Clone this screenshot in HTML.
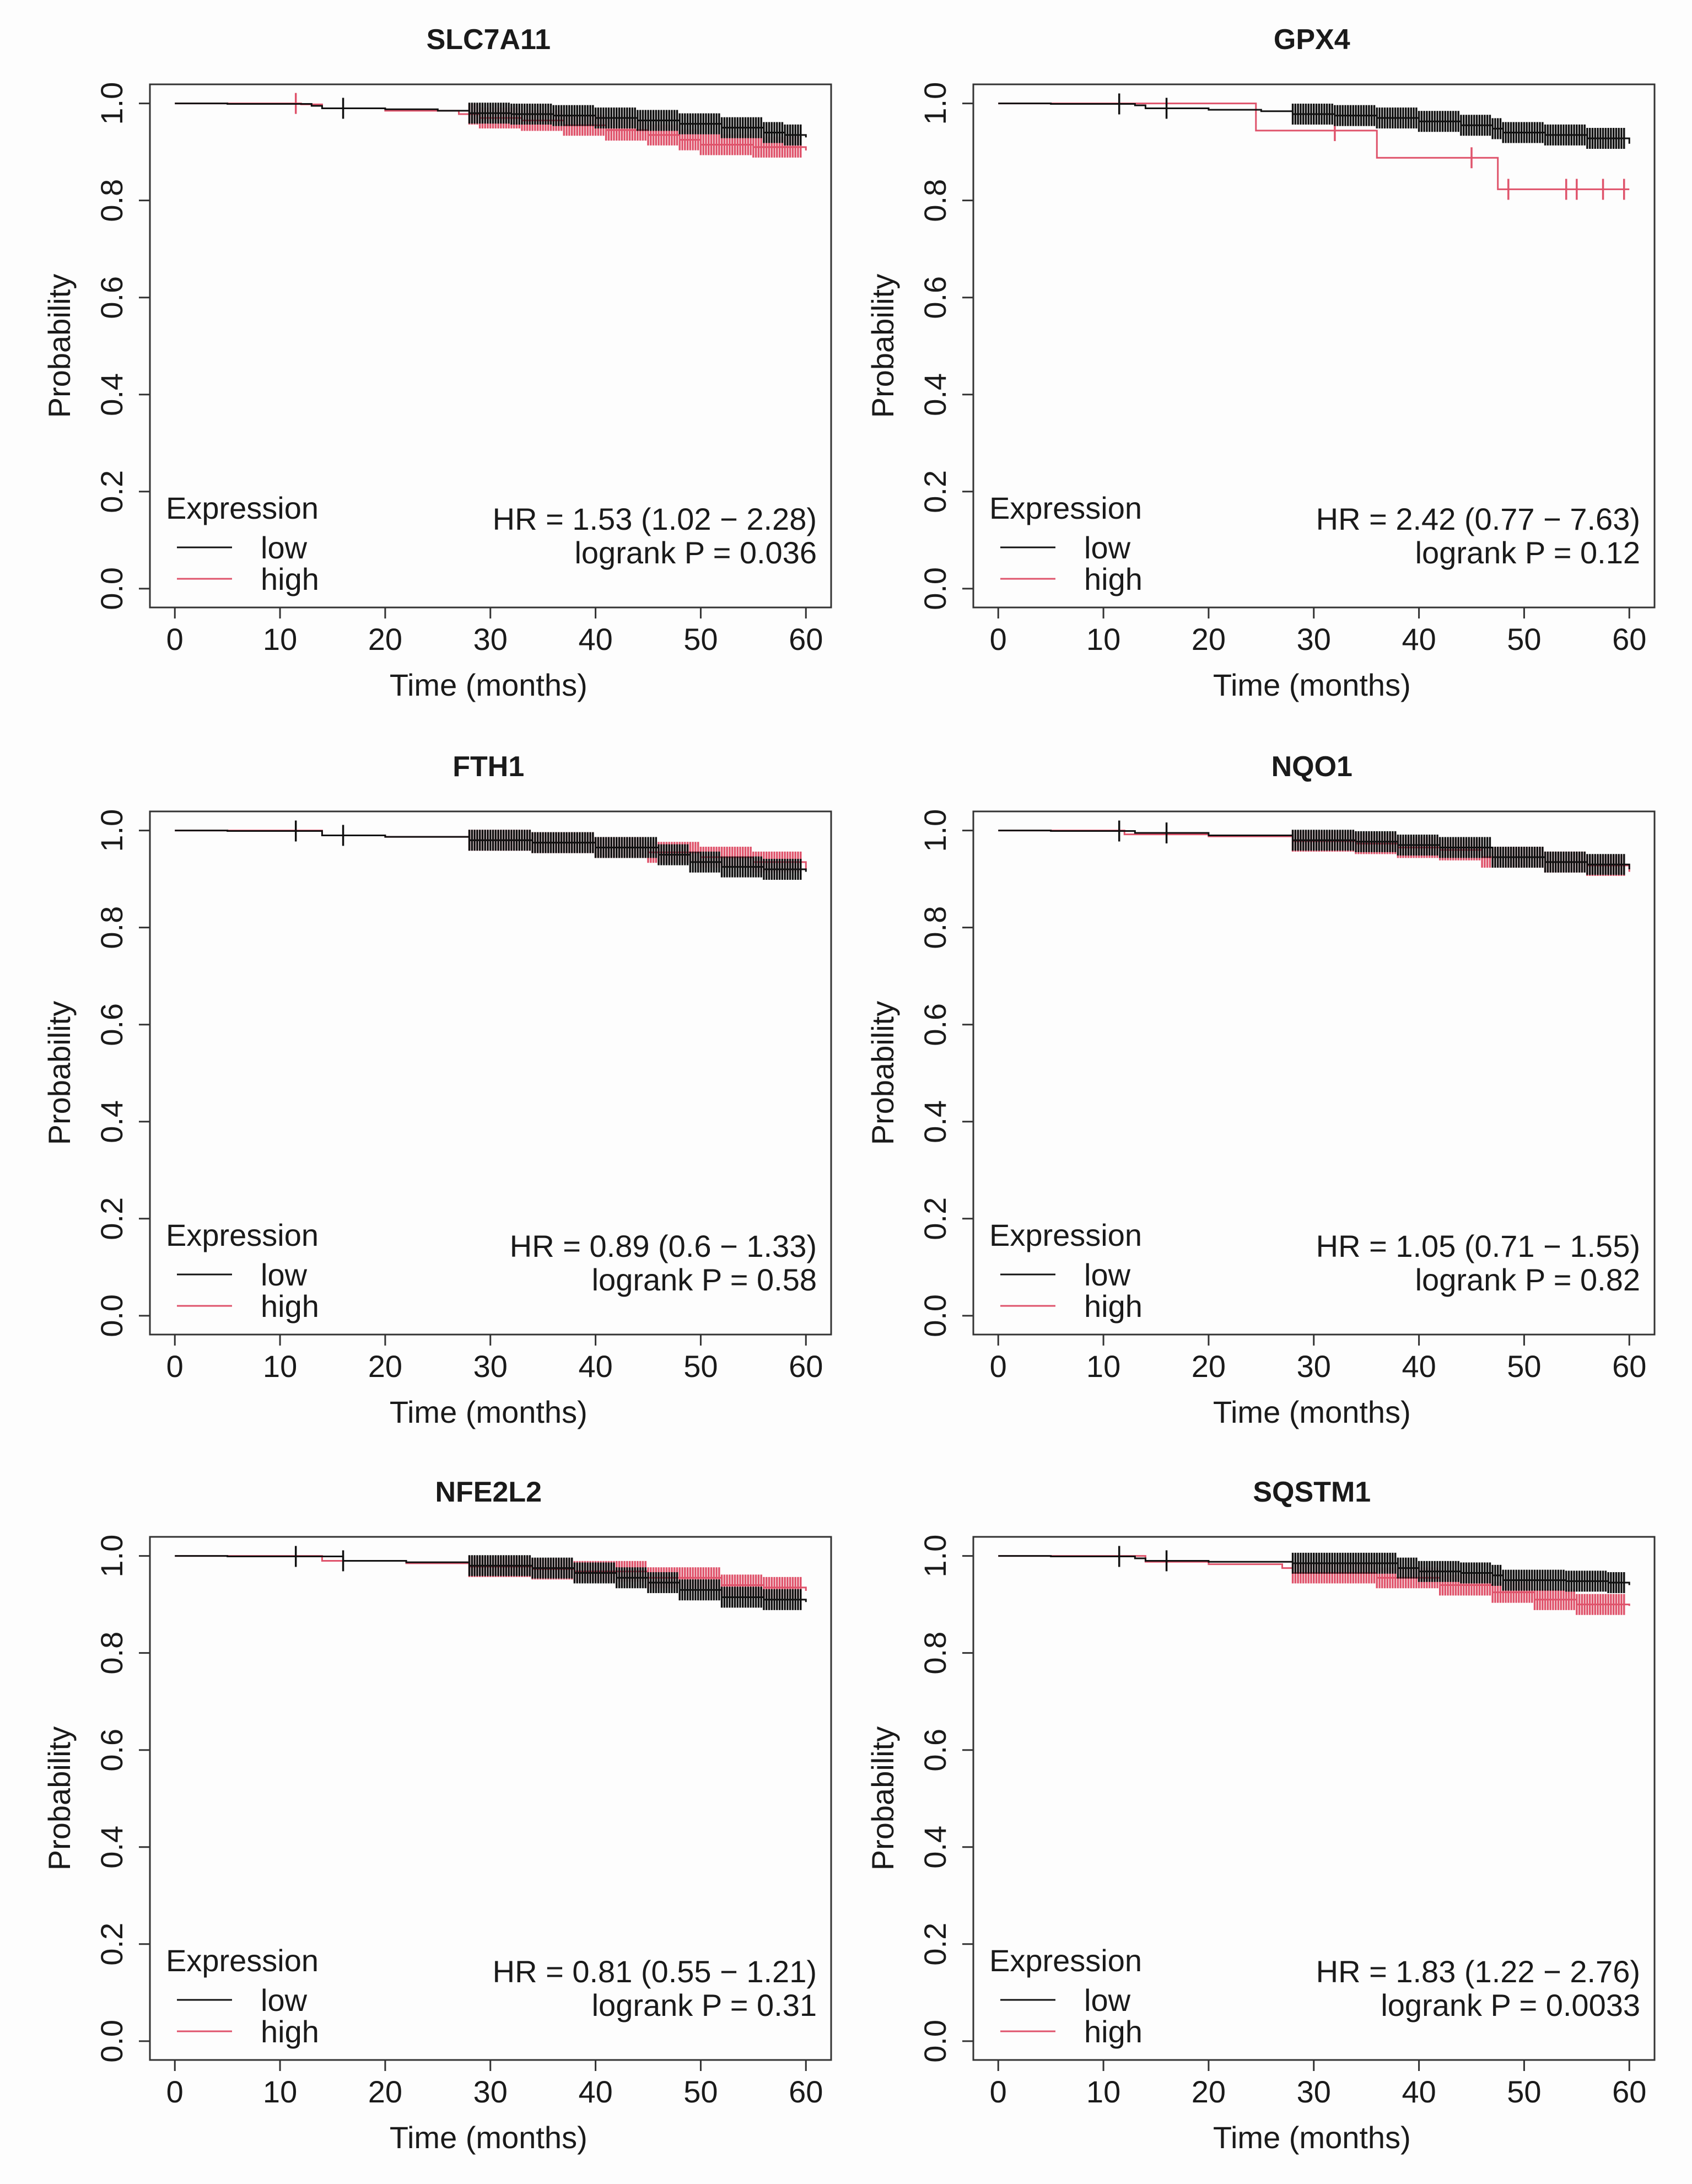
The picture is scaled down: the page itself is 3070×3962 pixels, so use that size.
<!DOCTYPE html>
<html><head><meta charset="utf-8"><style>
html,body{margin:0;padding:0;background:#fdfdfd;}
svg{display:block;}
text{font-family:"Liberation Sans",Arial,sans-serif;fill:#1a1a1a;}
</style></head><body>
<svg id="fig" width="3070" height="3962" viewBox="0 0 3070 3962" xmlns="http://www.w3.org/2000/svg"></svg>
<script>
const genes = ["SLC7A11","GPX4","FTH1","NQO1","NFE2L2","SQSTM1"];
const hrText = ["HR = 1.53 (1.02 \u2212 2.28)","HR = 2.42 (0.77 \u2212 7.63)","HR = 0.89 (0.6 \u2212 1.33)","HR = 1.05 (0.71 \u2212 1.55)","HR = 0.81 (0.55 \u2212 1.21)","HR = 1.83 (1.22 \u2212 2.76)"];
const pText = ["logrank P = 0.036","logrank P = 0.12","logrank P = 0.58","logrank P = 0.82","logrank P = 0.31","logrank P = 0.0033"];
const xTicks = [0,10,20,30,40,50,60];
const yTicks = [0,0.2,0.4,0.6,0.8,1.0];
const yTickLabels = ["0.0","0.2","0.4","0.6","0.8","1.0"];
const lowCurves = [
 [[0,1],[5,0.999],[13,0.995],[14,0.99],[20,0.988],[25,0.985],[28,0.98],[32,0.978],[36,0.975],[40,0.97],[44,0.965],[48,0.958],[52,0.95],[56,0.94],[58,0.935],[60,0.93]],
 [[0,1],[5,0.999],[13,0.996],[14,0.99],[20,0.987],[25,0.984],[28,0.978],[32,0.975],[36,0.97],[40,0.963],[44,0.955],[47,0.948],[48,0.94],[52,0.935],[56,0.928],[60,0.917]],
 [[0,1],[5,0.999],[14,0.99],[20,0.987],[28,0.98],[34,0.975],[40,0.965],[46,0.95],[49,0.935],[52,0.925],[56,0.92],[60,0.915]],
 [[0,1],[5,0.999],[13,0.995],[20,0.99],[28,0.98],[34,0.977],[38,0.97],[42,0.965],[47,0.945],[52,0.935],[56,0.93],[60,0.92]],
 [[0,1],[5,0.999],[16,0.99],[22,0.987],[28,0.98],[34,0.975],[38,0.965],[42,0.955],[45,0.945],[48,0.93],[52,0.915],[56,0.91],[60,0.905]],
 [[0,1],[5,0.999],[13,0.995],[14,0.99],[20,0.988],[28,0.985],[38,0.975],[40,0.968],[44,0.965],[47,0.96],[48,0.95],[54,0.948],[58,0.945],[60,0.94]]
];
const highCurves = [
 [[0,1],[12,0.998],[14,0.99],[20,0.985],[27,0.978],[29,0.97],[33,0.965],[37,0.955],[41,0.945],[45,0.935],[48,0.925],[50,0.915],[55,0.91],[60,0.903]],
 [[0,1],[24.5,0.944],[36,0.888],[47.5,0.823],[60,0.823]],
 [[0,1],[14,0.99],[20,0.987],[28,0.98],[34,0.975],[40,0.965],[45,0.955],[50,0.945],[55,0.935],[60,0.92]],
 [[0,1],[12,0.992],[20,0.988],[28,0.978],[34,0.973],[38,0.965],[42,0.96],[46,0.945],[52,0.935],[56,0.928],[60,0.915]],
 [[0,1],[14,0.99],[22,0.985],[28,0.978],[34,0.973],[38,0.968],[45,0.955],[52,0.94],[56,0.935],[60,0.928]],
 [[0,1],[14,0.988],[20,0.983],[27,0.975],[28,0.965],[36,0.955],[42,0.94],[47,0.925],[51,0.91],[55,0.9],[60,0.897]]
];
const earlyCensor = [11.5,16];
const censorTimes = [28,28.25,28.5,28.75,29,29.25,29.5,29.75,30,30.25,30.5,30.75,31,31.25,31.5,31.75,32,32.25,32.5,32.75,33,33.25,33.5,33.75,34,34.25,34.5,34.75,35,35.25,35.5,35.75,36,36.25,36.5,36.75,37,37.25,37.5,37.75,38,38.25,38.5,38.75,39,39.25,39.5,39.75,40,40.25,40.5,40.75,41,41.25,41.5,41.75,42,42.25,42.5,42.75,43,43.25,43.5,43.75,44,44.25,44.5,44.75,45,45.25,45.5,45.75,46,46.25,46.5,46.75,47,47.25,47.5,47.75,48,48.25,48.5,48.75,49,49.25,49.5,49.75,50,50.25,50.5,50.75,51,51.25,51.5,51.75,52,52.25,52.5,52.75,53,53.25,53.5,53.75,54,54.25,54.5,54.75,55,55.25,55.5,55.75,56,56.25,56.5,56.75,57,57.25,57.5,57.75,58,58.25,58.5,58.75,59,59.25,59.5];
const gpx4HighCensor = [32,45,48.5,54,55,57.5,59.5];

const NS="http://www.w3.org/2000/svg";
const svg=document.getElementById('fig');
function mk(tag,attrs,parent){const e=document.createElementNS(NS,tag);for(const k in attrs)e.setAttribute(k,attrs[k]);(parent||svg).appendChild(e);return e;}
const colX=[272,1766], rowY=[153,1472,2788], BW=1236, BH=949;
function survAt(curve,t){let s=1;for(const p of curve){if(p[0]<=t)s=p[1];}return s;}

genes.forEach((g,i)=>{
  const L=colX[i%2], T=rowY[Math.floor(i/2)];
  const grp=mk('g',{});
  
  
  const xs=t=>L+BW*0.0366+(t/60)*BW*(0.963-0.0366);
  const ys=v=>T+BH*0.964-(v)*BH*(0.964-0.0365);
  const title=mk('text',{x:L+BW*0.497,y:T-64,'text-anchor':'middle','font-size':52,'font-weight':'bold'},grp);
  title.textContent=g;
  
  
  const box=mk('rect',{x:L,y:T,width:BW,height:BH,fill:'none',stroke:'#333',"stroke-width":3},grp);
  
  
  const xa=mk('g',{},grp);
  
  
  xTicks.forEach(t=>{
    mk('line',{x1:xs(t),x2:xs(t),y1:T+BH,y2:T+BH+20,stroke:'#333','stroke-width':3},xa);
    const tx=mk('text',{x:xs(t),y:T+BH+77,'text-anchor':'middle','font-size':56},xa);
    tx.textContent=t;
    
    
  });
  const xl=mk('text',{x:L+BW*0.497,y:T+BH+160,'text-anchor':'middle','font-size':56},grp);
  xl.textContent='Time (months)';
  
  
  const ya=mk('g',{},grp);
  
  
  yTicks.forEach((v,k)=>{
    mk('line',{x1:L,x2:L-20,y1:ys(v),y2:ys(v),stroke:'#333','stroke-width':3},ya);
    const cx=L-50, cy=ys(v);
    const tx=mk('text',{x:cx,y:cy,'text-anchor':'middle','font-size':56,transform:`rotate(-90 ${cx} ${cy})`},ya);
    tx.textContent=yTickLabels[k];
    
    
  });
  const ylx=L-145, yly=T+BH*0.5;
  const yl=mk('text',{x:ylx,y:yly,'text-anchor':'middle','font-size':56,transform:`rotate(-90 ${ylx} ${yly})`},grp);
  yl.textContent='Probability';
  
  
  function drawCurve(curve,color,name,cens){
    const cg=mk('g',{},grp);
    
    
    let d=`M${xs(curve[0][0])},${ys(curve[0][1])}`;
    for(let k=1;k<curve.length;k++){d+=` H${xs(curve[k][0])} V${ys(curve[k][1])}`;}
    mk('path',{d:d,fill:'none',stroke:color,'stroke-width':3},cg);
    cens.forEach(t=>{const y=ys(survAt(curve,t));
      mk('line',{x1:xs(t),x2:xs(t),y1:y-19,y2:y+19,stroke:color,'stroke-width':3.5},cg);});
  }
  const hc = i===1 ? gpx4HighCensor : (i===0 ? [11.5].concat(censorTimes) : censorTimes);
  const lc = (i===0 ? [16] : earlyCensor).concat(censorTimes);
  drawCurve(highCurves[i],'#df536b','curve-high',hc);
  drawCurve(lowCurves[i],'#111','curve-low',lc);
  const lg=mk('g',{},grp);
  
  
  const lt=mk('text',{x:L+29,y:T+788,'font-size':56},lg);lt.textContent='Expression';
  mk('line',{x1:L+49,x2:L+149,y1:T+840,y2:T+840,stroke:'#111','stroke-width':3},lg);
  const l1=mk('text',{x:L+201,y:T+860,'font-size':56},lg);l1.textContent='low';
  
  
  mk('line',{x1:L+49,x2:L+149,y1:T+897,y2:T+897,stroke:'#df536b','stroke-width':3},lg);
  const l2=mk('text',{x:L+201,y:T+917,'font-size':56},lg);l2.textContent='high';
  
  
  const hr=mk('text',{x:L+1210,y:T+808,'text-anchor':'end','font-size':56},grp);hr.textContent=hrText[i];
  
  
  const pv=mk('text',{x:L+1210,y:T+869,'text-anchor':'end','font-size':56},grp);pv.textContent=pText[i];
  
  
});
</script>
</body></html>
